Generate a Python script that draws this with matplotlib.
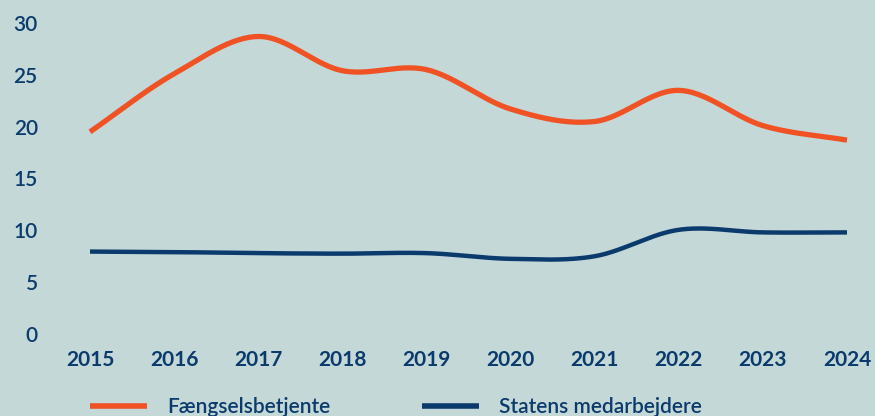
import numpy as np
import matplotlib
matplotlib.use("Agg")
import matplotlib.pyplot as plt

# data (yearly values)
years = [2015, 2016, 2017, 2018, 2019, 2020, 2021, 2022, 2023, 2024]
faengsel = [19.5, 25.1, 28.7, 25.4, 25.5, 21.7, 20.5, 23.5, 20.1, 18.7]
staten = [7.95, 7.9, 7.8, 7.75, 7.8, 7.25, 7.5, 10.05, 9.8, 9.8]
yticks = [0, 5, 10, 15, 20, 25, 30]

BG = "#c3d8d7"
ORANGE = "#f05224"
NAVY = "#0b3a6c"

plt.rcParams['font.family'] = ['Lato', 'DejaVu Sans']


def smooth(x, y, n=30):
    # cardinal (Catmull-Rom) spline through the points, like the chart's curved lines
    x = np.asarray(x, float)
    y = np.asarray(y, float)
    m = np.zeros_like(y)
    m[1:-1] = (y[2:] - y[:-2]) / 2
    m[0] = y[1] - y[0]
    m[-1] = y[-1] - y[-2]
    xs, ys = [], []
    for i in range(len(x) - 1):
        t = np.linspace(0, 1, n, endpoint=False)
        h00 = 2*t**3 - 3*t**2 + 1
        h10 = t**3 - 2*t**2 + t
        h01 = -2*t**3 + 3*t**2
        h11 = t**3 - t**2
        xs.append(x[i] + t*(x[i+1] - x[i]))
        ys.append(h00*y[i] + h10*m[i] + h01*y[i+1] + h11*m[i+1])
    xs.append([x[-1]])
    ys.append([y[-1]])
    return np.concatenate(xs), np.concatenate(ys)


fig = plt.figure(figsize=(8.75, 4.16), dpi=100, facecolor=BG)
ax = fig.add_axes([60/875, (416-340)/416, 810/875, (340-20)/416])
ax.set_facecolor(BG)

fx, fy = smooth(years, faengsel)
sx, sy = smooth(years, staten)
ax.plot(fx, fy, color=ORANGE, lw=3.8, solid_capstyle='butt', label="Fængselsbetjente")
ax.plot(sx, sy, color=NAVY, lw=3.2, solid_capstyle='butt', label="Statens medarbejdere")

ax.set_xlim(2015 - 30/84.1, 2024 + 23/84.1)
ax.set_ylim(-6/10.35, 30 + 3/10.35)
ax.set_xticks(years)
ax.set_xticklabels([str(y) for y in years], fontsize=15, fontweight='bold', color=NAVY)
ax.set_yticks(yticks)
ax.set_yticklabels([str(v) for v in yticks], fontsize=15, fontweight='semibold', color=NAVY)
ax.tick_params(length=0)
ax.tick_params(axis='x', pad=7)
ax.tick_params(axis='y', pad=16)
for s in ax.spines.values():
    s.set_visible(False)

leg = fig.legend(loc='center left', bbox_to_anchor=(90/875, 1 - 407/416), ncol=2,
                 frameon=False, fontsize=15, handlelength=2.74, handletextpad=0.96,
                 columnspacing=4.4, borderaxespad=0, borderpad=0)
for t in leg.get_texts():
    t.set_color(NAVY)
    t.set_fontweight('semibold')
for h in leg.get_lines():
    h.set_linewidth(4)

fig.savefig("out.png", dpi=100, facecolor=BG)
